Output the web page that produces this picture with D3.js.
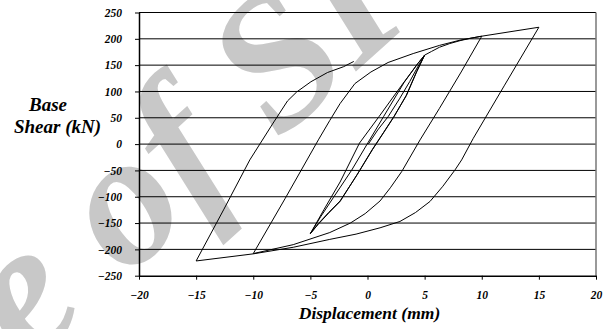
<!DOCTYPE html>
<html>
<head>
<meta charset="utf-8">
<script src="https://cdn.jsdelivr.net/npm/d3@7"></script>
<style>
  body { margin: 0; background: #fff; }
</style>
</head>
<body>
<figure id="chart" style="margin:0"></figure>
<script>
const serif = "'Liberation Serif', 'Times New Roman', serif";

// axis ticks
const xTicks = [-20, -15, -10, -5, 0, 5, 10, 15, 20];
const yTicks = [-250, -200, -150, -100, -50, 0, 50, 100, 150, 200, 250];

// hysteresis branches, [displacement mm, base shear kN], in loading order
const initialLoad = [[0.07, 0], [0.9, 27], [1.8, 52], [2.8, 86], [3.7, 119], [4.4, 147], [5, 169]];
const unload5a = [[5, 169], [4.3, 150], [3, 112], [1, 52], [-0.7, 2], [-2.4, -72], [-3.8, -124], [-5, -170]];
const reload5a = [[-5, -170], [-4.3, -152], [-3.4, -131], [-2.4, -109], [-0.94, -59], [0.4, -11], [1.4, 22], [2.3, 52], [3.4, 92], [4.3, 137], [5, 169]];
const unload5b = [[5, 169], [4.4, 153], [3.2, 117], [1.4, 52], [0.05, 3], [-1.4, -50], [-3, -102], [-4.1, -138], [-5, -170]];
const reload5b = [[-5, -170], [-4.3, -151], [-3.4, -130], [-2.4, -108], [-0.9, -58], [0.45, -10], [1.45, 23], [2.35, 53], [3.4, 93], [4.3, 138], [5, 169],
                  [5.6, 176], [6.3, 184], [7.2, 191], [8.1, 196.5], [9, 201], [10, 205]];
const unload10 = [[10, 205], [8.2, 137], [6.3, 68], [4.6, 8], [3, -52], [2, -83], [1.1, -108], [-0.2, -132], [-1.5, -150], [-3.3, -168], [-6.5, -191], [-10, -208]];
const reload10 = [[-10, -208], [-7.2, -103], [-4.3, 8], [-3.3, 45], [-2.4, 77], [-1.1, 115], [0.3, 137], [1.8, 155], [4, 172], [6.3, 187.5], [8.1, 197.5], [10, 205], [15, 222]];
const unload15 = [[15, 222], [12, 112], [9.26, 11], [8.24, -30], [7.66, -49], [6.6, -80], [5.47, -109], [4.2, -130], [2.84, -147], [1.1, -159], [-1, -171], [-3.3, -181], [-6.5, -196], [-10, -208.5], [-15, -222]];
const reload15 = [[-15, -222], [-12.6, -125], [-10.3, -30], [-8.2, 42], [-7, 82], [-6.2, 99], [-4.95, 118.5], [-3.5, 136], [-2.1, 147], [-1.2, 157]];

const branches = [initialLoad, unload5a, reload5a, unload5b, reload5b, unload10, reload10, unload15, reload15];

const W = 605, H = 329;
const margin = {left: 139, right: 9, top: 12.5, bottom: 53.3};
const width = W - margin.left - margin.right;
const height = H - margin.top - margin.bottom;

const svg = d3.select("figure#chart")
  .append("svg")
  .attr("width", W)
  .attr("height", H)
  .style("font-family", serif);

// watermark behind everything
svg.append("text")
  .attr("transform", "translate(-341,699) rotate(-42)")
  .attr("font-size", 190)
  .attr("font-style", "italic")
  .attr("font-weight", "bold")
  .attr("fill", "#c8c8c8")
  .text("Sample of SI");

const g = svg.append("g")
  .attr("transform", "translate(" + margin.left + "," + margin.top + ")");

const x = d3.scaleLinear().domain([-20, 20]).range([0, width]);
const y = d3.scaleLinear().domain([-250, 250]).range([height, 0]);

// horizontal gridlines
g.selectAll(".grid")
  .data(yTicks.filter(d => d > -250))
  .enter()
  .append("line")
  .attr("x1", 0)
  .attr("x2", width)
  .attr("y1", d => y(d))
  .attr("y2", d => y(d))
  .attr("stroke", "#000")
  .attr("stroke-width", 1);

// right border
g.append("line")
  .attr("x1", width).attr("x2", width)
  .attr("y1", 0).attr("y2", height)
  .attr("stroke", "#777")
  .attr("stroke-width", 1.5);

// x axis
const xAxis = g.append("g")
  .attr("transform", "translate(0," + height + ")")
  .call(d3.axisBottom(x).tickValues(xTicks).tickSize(4).tickSizeOuter(0).tickPadding(11));
xAxis.select(".domain").attr("stroke-width", 1.5);

// y axis
const yAxis = g.append("g")
  .call(d3.axisLeft(y).tickValues(yTicks).tickSize(4).tickSizeOuter(0).tickPadding(13));
yAxis.select(".domain").attr("stroke-width", 1.5);

g.selectAll(".tick text")
  .style("font-family", serif)
  .attr("font-size", 11.5)
  .attr("font-weight", "bold")
  .attr("font-style", "italic")
  .attr("fill", "#000");

// curves
const line = d3.line()
  .x(d => x(d[0]))
  .y(d => y(d[1]));

g.selectAll(".branch")
  .data(branches)
  .enter()
  .append("path")
  .attr("d", line)
  .attr("fill", "none")
  .attr("stroke", "#000")
  .attr("stroke-width", 1);

// axis titles
svg.append("text")
  .attr("x", 369.5)
  .attr("y", 319)
  .attr("text-anchor", "middle")
  .attr("font-size", 17.5)
  .attr("font-weight", "bold")
  .attr("font-style", "italic")
  .text("Displacement (mm)");

svg.append("text")
  .attr("x", 48)
  .attr("y", 111)
  .attr("text-anchor", "middle")
  .attr("font-size", 19)
  .attr("font-weight", "bold")
  .attr("font-style", "italic")
  .text("Base");

svg.append("text")
  .attr("x", 57.5)
  .attr("y", 133)
  .attr("text-anchor", "middle")
  .attr("font-size", 19)
  .attr("font-weight", "bold")
  .attr("font-style", "italic")
  .text("Shear (kN)");
</script>
</body>
</html>
